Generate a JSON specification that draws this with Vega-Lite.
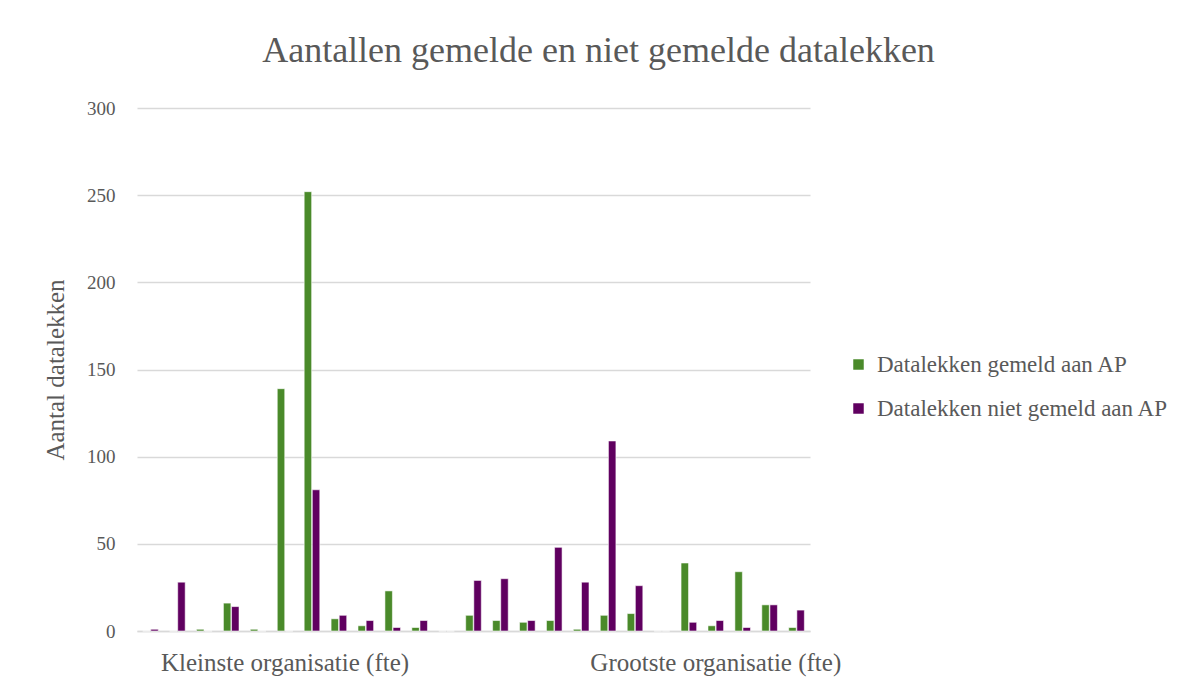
{
  "$schema": "https://vega.github.io/schema/vega-lite/v6.json",
  "width": 673,
  "height": 523,
  "autosize": {"type": "none"},
  "padding": {"left": 137, "top": 108, "right": 382, "bottom": 60},
  "background": "white",
  "title": {
    "text": "Aantallen gemelde en niet gemelde datalekken",
    "anchor": "middle",
    "dx": 125,
    "offset": 29,
    "font": "Liberation Serif",
    "fontSize": 36,
    "fontWeight": "normal",
    "color": "#595959"
  },
  "data": {
    "values": [
      {"cat": 1, "series": "Datalekken gemeld aan AP", "value": 0},
      {"cat": 1, "series": "Datalekken niet gemeld aan AP", "value": 1},
      {"cat": 2, "series": "Datalekken gemeld aan AP", "value": 0},
      {"cat": 2, "series": "Datalekken niet gemeld aan AP", "value": 28},
      {"cat": 3, "series": "Datalekken gemeld aan AP", "value": 1},
      {"cat": 3, "series": "Datalekken niet gemeld aan AP", "value": 0},
      {"cat": 4, "series": "Datalekken gemeld aan AP", "value": 16},
      {"cat": 4, "series": "Datalekken niet gemeld aan AP", "value": 14},
      {"cat": 5, "series": "Datalekken gemeld aan AP", "value": 1},
      {"cat": 5, "series": "Datalekken niet gemeld aan AP", "value": 0},
      {"cat": 6, "series": "Datalekken gemeld aan AP", "value": 139},
      {"cat": 6, "series": "Datalekken niet gemeld aan AP", "value": 0},
      {"cat": 7, "series": "Datalekken gemeld aan AP", "value": 252},
      {"cat": 7, "series": "Datalekken niet gemeld aan AP", "value": 81},
      {"cat": 8, "series": "Datalekken gemeld aan AP", "value": 7},
      {"cat": 8, "series": "Datalekken niet gemeld aan AP", "value": 9},
      {"cat": 9, "series": "Datalekken gemeld aan AP", "value": 3},
      {"cat": 9, "series": "Datalekken niet gemeld aan AP", "value": 6},
      {"cat": 10, "series": "Datalekken gemeld aan AP", "value": 23},
      {"cat": 10, "series": "Datalekken niet gemeld aan AP", "value": 2},
      {"cat": 11, "series": "Datalekken gemeld aan AP", "value": 2},
      {"cat": 11, "series": "Datalekken niet gemeld aan AP", "value": 6},
      {"cat": 12, "series": "Datalekken gemeld aan AP", "value": 0},
      {"cat": 12, "series": "Datalekken niet gemeld aan AP", "value": 0},
      {"cat": 13, "series": "Datalekken gemeld aan AP", "value": 9},
      {"cat": 13, "series": "Datalekken niet gemeld aan AP", "value": 29},
      {"cat": 14, "series": "Datalekken gemeld aan AP", "value": 6},
      {"cat": 14, "series": "Datalekken niet gemeld aan AP", "value": 30},
      {"cat": 15, "series": "Datalekken gemeld aan AP", "value": 5},
      {"cat": 15, "series": "Datalekken niet gemeld aan AP", "value": 6},
      {"cat": 16, "series": "Datalekken gemeld aan AP", "value": 6},
      {"cat": 16, "series": "Datalekken niet gemeld aan AP", "value": 48},
      {"cat": 17, "series": "Datalekken gemeld aan AP", "value": 1},
      {"cat": 17, "series": "Datalekken niet gemeld aan AP", "value": 28},
      {"cat": 18, "series": "Datalekken gemeld aan AP", "value": 9},
      {"cat": 18, "series": "Datalekken niet gemeld aan AP", "value": 109},
      {"cat": 19, "series": "Datalekken gemeld aan AP", "value": 10},
      {"cat": 19, "series": "Datalekken niet gemeld aan AP", "value": 26},
      {"cat": 20, "series": "Datalekken gemeld aan AP", "value": 0},
      {"cat": 20, "series": "Datalekken niet gemeld aan AP", "value": 0},
      {"cat": 21, "series": "Datalekken gemeld aan AP", "value": 39},
      {"cat": 21, "series": "Datalekken niet gemeld aan AP", "value": 5},
      {"cat": 22, "series": "Datalekken gemeld aan AP", "value": 3},
      {"cat": 22, "series": "Datalekken niet gemeld aan AP", "value": 6},
      {"cat": 23, "series": "Datalekken gemeld aan AP", "value": 34},
      {"cat": 23, "series": "Datalekken niet gemeld aan AP", "value": 2},
      {"cat": 24, "series": "Datalekken gemeld aan AP", "value": 15},
      {"cat": 24, "series": "Datalekken niet gemeld aan AP", "value": 15},
      {"cat": 25, "series": "Datalekken gemeld aan AP", "value": 2},
      {"cat": 25, "series": "Datalekken niet gemeld aan AP", "value": 12}
    ]
  },
  "mark": {"type": "bar", "stroke": "white", "strokeWidth": 0.8, "strokeOpacity": 0.7},
  "encoding": {
    "x": {
      "field": "cat",
      "type": "ordinal",
      "scale": {"paddingInner": 0.42, "paddingOuter": 0.21},
      "axis": {
        "title": null,
        "labelAngle": 0,
        "labelExpr": "datum.value == 6 ? 'Kleinste organisatie (fte)' : datum.value == 22 ? 'Grootste organisatie (fte)' : ''",
        "labelOverlap": false,
        "labelLimit": 0,
        "labelFont": "Liberation Serif",
        "labelFontSize": 25,
        "labelColor": "#595959",
        "labelPadding": 19,
        "ticks": false,
        "domainColor": "#d9d9d9",
        "domainWidth": 1.5,
        "grid": false
      }
    },
    "xOffset": {"field": "series", "type": "nominal", "scale": {"paddingInner": 0.08}},
    "y": {
      "field": "value",
      "type": "quantitative",
      "scale": {"domain": [0, 300]},
      "axis": {
        "title": "Aantal datalekken",
        "titleFont": "Liberation Serif",
        "titleFontSize": 25,
        "titleFontWeight": "normal",
        "titleColor": "#595959",
        "titlePadding": 18,
        "values": [0, 50, 100, 150, 200, 250, 300],
        "labelFont": "Liberation Serif",
        "labelFontSize": 19,
        "labelColor": "#595959",
        "labelPadding": 22,
        "ticks": false,
        "domain": false,
        "grid": true,
        "gridColor": "#d9d9d9",
        "gridWidth": 1.3
      }
    },
    "color": {
      "field": "series",
      "type": "nominal",
      "scale": {
        "domain": ["Datalekken gemeld aan AP", "Datalekken niet gemeld aan AP"],
        "range": ["#4a8a2a", "#600060"]
      },
      "legend": {
        "title": null,
        "orient": "none",
        "legendX": 710,
        "legendY": 245,
        "symbolType": "square",
        "symbolSize": 110,
        "symbolStrokeWidth": 0,
        "symbolOpacity": 1,
        "labelFont": "Liberation Serif",
        "labelFontSize": 23,
        "labelLimit": 0,
        "labelColor": "#595959",
        "labelOffset": 7,
        "rowPadding": 20
      }
    }
  },
  "config": {"view": {"stroke": null}}
}
